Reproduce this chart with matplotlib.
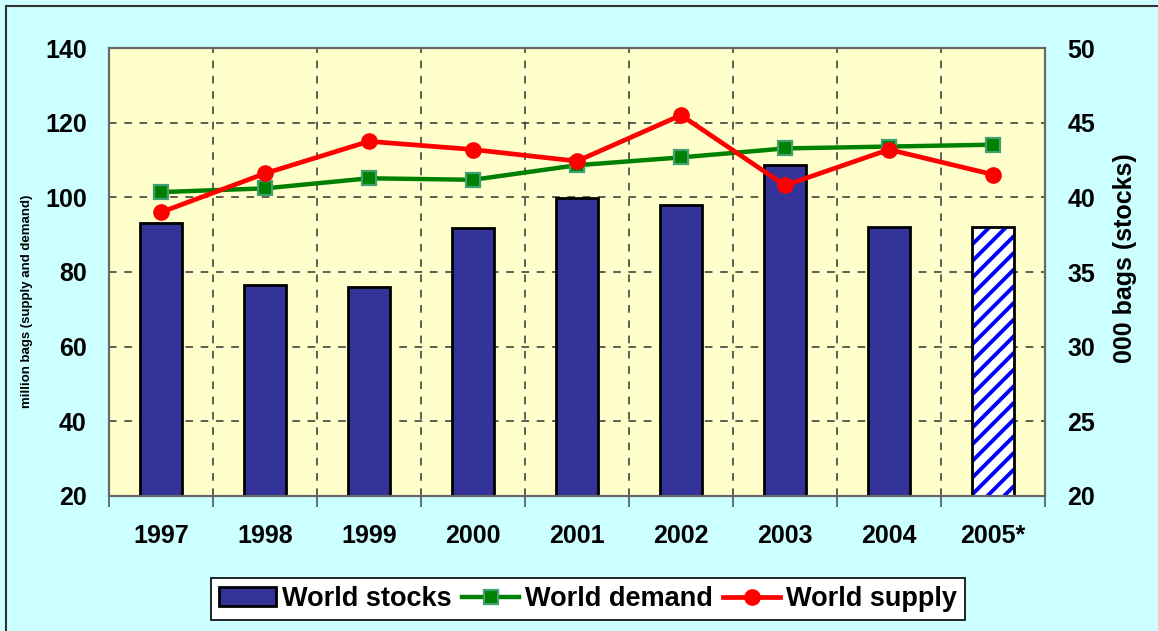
import matplotlib
matplotlib.use("Agg")
import matplotlib.pyplot as plt
from matplotlib.patches import Rectangle
from matplotlib.lines import Line2D
import numpy as np

plt.rcParams['font.family'] = ['Liberation Sans', 'DejaVu Sans']
plt.rcParams['hatch.linewidth'] = 2.8

years = ['1997', '1998', '1999', '2000', '2001', '2002', '2003', '2004', '2005*']
stocks = [38.3, 34.1, 34.0, 37.95, 39.95, 39.5, 42.15, 38.0, 38.0]
demand = [101.4, 102.4, 105.1, 104.7, 108.6, 110.7, 113.1, 113.6, 114.1]
supply = [96.0, 106.4, 115.0, 112.8, 109.7, 122.0, 103.2, 112.8, 106.1]
estimated = [False] * 8 + [True]

left_ticks = [20, 40, 60, 80, 100, 120, 140]
right_ticks = [20, 25, 30, 35, 40, 45, 50]

fig = plt.figure(figsize=(11.58, 6.31), dpi=100)
fig.patch.set_facecolor('#CCFFFF')

# outer border
fig.add_artist(Line2D([6/1158, 1.0], [1 - 6/631, 1 - 6/631], transform=fig.transFigure, color='#333333', lw=1.5))
fig.add_artist(Line2D([6/1158, 6/1158], [0, 1 - 6/631], transform=fig.transFigure, color='#333333', lw=1.5))

L, R, B, T = 109/1158, 1045/1158, 1 - 496/631, 1 - 48/631
ax = fig.add_axes([L, B, R - L, T - B])
ax2 = ax.twinx()
ax.set_zorder(ax2.get_zorder() + 1)
ax.patch.set_visible(False)
ax2.patch.set_visible(True)
ax2.patch.set_facecolor('#FFFFCC')

x = np.arange(len(years)) + 0.5
bw = 0.41
for xi, v, est in zip(x, stocks, estimated):
    if est:
        ax2.bar(xi, v - 20, bottom=20, width=bw, color='white', edgecolor='#0000FF', hatch='//', lw=0, zorder=3)
        ax2.bar(xi, v - 20, bottom=20, width=bw, fill=False, edgecolor='black', lw=2, zorder=4)
    else:
        ax2.bar(xi, v - 20, bottom=20, width=bw, color='#333399', edgecolor='black', lw=2, zorder=3)

ax.plot(x, demand, color='#008000', lw=3.2, marker='s', markersize=10,
        markerfacecolor='#008000', markeredgecolor='#40A070', markeredgewidth=1.6, zorder=5)
ax.plot(x, supply, color='#FF0000', lw=3.4, marker='o', markersize=11,
        markerfacecolor='#FF0000', markeredgecolor='#FF0000', zorder=6)

ax.set_xlim(0, len(years))
ax.set_ylim(20, 140)
ax2.set_ylim(20, 50)
ax.set_yticks(left_ticks)
ax2.set_yticks(right_ticks)

ax.set_xticks(np.arange(len(years) + 1))
ax.set_xticklabels([])
ax.set_xticks(x, minor=True)
ax.set_xticklabels(years, minor=True, fontsize=18, fontweight='bold')
ax.tick_params(axis='x', which='major', length=8, width=1.2, color='#555555', direction='out')
ax.tick_params(axis='x', which='minor', length=0, pad=20)
ax.tick_params(axis='y', length=0, pad=16, labelsize=18)
ax2.tick_params(axis='y', length=0, pad=16, labelsize=18)
for lab in ax.get_yticklabels() + ax2.get_yticklabels():
    lab.set_fontweight('bold')

# grid behind the bars (on the lower axes)
ax2.xaxis.set_visible(True)
ax2.tick_params(axis='x', which='both', length=0, labelbottom=False, labeltop=False)
ax2.set_axisbelow(True)
ax2.grid(True, which='major', axis='both', linestyle=(0, (5, 5)), color='#333333', lw=1.1)

for a in (ax, ax2):
    for s in a.spines.values():
        s.set_color('#666666')
        s.set_linewidth(1.5)

fig.text(27/1158, 1 - 301/631, 'million bags (supply and demand)', rotation=90,
         ha='center', va='center', fontsize=9.5, fontweight='bold')
fig.text(1125/1158, 1 - 258/631, '000 bags (stocks)', rotation=90,
         ha='center', va='center', fontsize=18, fontweight='bold')

handles = [
    Rectangle((0, 0), 1, 1, facecolor='#333399', edgecolor='black', lw=2),
    Line2D([], [], color='#008000', lw=3.2, marker='s', markersize=10,
           markerfacecolor='#008000', markeredgecolor='#40A070', markeredgewidth=1.6),
    Line2D([], [], color='#FF0000', lw=3.4, marker='o', markersize=11,
           markerfacecolor='#FF0000', markeredgecolor='#FF0000'),
]
leg = fig.legend(handles, ['World stocks', 'World demand', 'World supply'],
                 loc='center', bbox_to_anchor=(588/1158, 1 - 599/631), ncol=3,
                 prop={'size': 19.5, 'weight': 'bold'}, frameon=True, fancybox=False,
                 edgecolor='black', facecolor='white', framealpha=1,
                 handlelength=2.1, handletextpad=0.2, columnspacing=0.4,
                 borderpad=0.3, borderaxespad=0)
leg.get_frame().set_linewidth(1.2)

fig.savefig('out.png', dpi=100, facecolor=fig.get_facecolor())
